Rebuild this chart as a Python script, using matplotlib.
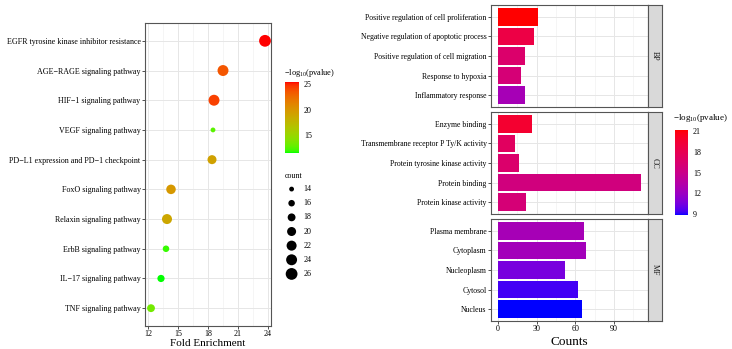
import numpy as np
import matplotlib
matplotlib.use("Agg")
import matplotlib.pyplot as plt
from matplotlib.colors import ListedColormap, Normalize, to_rgb

plt.rcParams['font.family'] = ['Liberation Serif', 'DejaVu Serif']
plt.rcParams['mathtext.fontset'] = 'custom'
plt.rcParams['mathtext.rm'] = 'Liberation Serif'
plt.rcParams['mathtext.it'] = 'Liberation Serif:italic'

# KEGG bubble data
kegg_terms = ["EGFR tyrosine kinase inhibitor resistance", "AGE\u2212RAGE signaling pathway",
              "HIF\u22121 signaling pathway", "VEGF signaling pathway",
              "PD\u2212L1 expression and PD\u22121 checkpoint", "FoxO signaling pathway",
              "Relaxin signaling pathway", "ErbB signaling pathway",
              "IL\u221217 signaling pathway", "TNF signaling pathway"]
kegg_fold = [23.7, 19.5, 18.6, 18.5, 18.4, 14.3, 13.9, 13.8, 13.3, 12.3]
kegg_logp = [25.4, 23.5, 24.3, 12.6, 19.2, 19.8, 18.8, 11.9, 11.5, 13.4]
kegg_count = [26, 24, 24, 14, 20, 21, 22, 16, 17, 18]
count_breaks = [14, 16, 18, 20, 22, 24, 26]

# GO bar data
go_groups = ["BP", "CC", "MF"]
go_terms = {
    "BP": ["Positive regulation of cell proliferation", "Negative regulation of apoptotic process",
           "Positive regulation of cell migration", "Response to hypoxia", "Inflammatory response"],
    "CC": ["Enzyme binding", "Transmembrane receptor P Ty/K activity", "Protein tyrosine kinase activity",
           "Protein binding", "Protein kinase activity"],
    "MF": ["Plasma membrane", "Cytoplasm", "Nucleoplasm", "Cytosol", "Nucleus"],
}
go_counts = {
    "BP": [31, 28, 21, 18, 21],
    "CC": [26, 13, 16, 111, 22],
    "MF": [67, 68, 52, 62, 65],
}
go_logp = {
    "BP": [21.1, 18.6, 16.6, 16.0, 12.6],
    "CC": [19.6, 17.2, 16.6, 15.6, 16.0],
    "MF": [12.6, 12.4, 10.6, 9.4, 8.9],
}


def srgb_to_lab(rgb):
    c = np.array(rgb, dtype=float)
    c = np.where(c <= 0.04045, c / 12.92, ((c + 0.055) / 1.055) ** 2.4)
    m = np.array([[0.4124, 0.3576, 0.1805], [0.2126, 0.7152, 0.0722], [0.0193, 0.1192, 0.9505]])
    xyz = m @ c / np.array([0.95047, 1.0, 1.08883])
    f = np.where(xyz > 0.008856, np.cbrt(xyz), 7.787 * xyz + 16 / 116)
    return np.array([116 * f[1] - 16, 500 * (f[0] - f[1]), 200 * (f[1] - f[2])])


def lab_to_srgb(lab):
    fy = (lab[0] + 16) / 116
    fx = fy + lab[1] / 500
    fz = fy - lab[2] / 200
    f = np.array([fx, fy, fz])
    xyz = np.where(f ** 3 > 0.008856, f ** 3, (f - 16 / 116) / 7.787) * np.array([0.95047, 1.0, 1.08883])
    m = np.array([[3.2406, -1.5372, -0.4986], [-0.9689, 1.8758, 0.0415], [0.0557, -0.2040, 1.0570]])
    c = m @ xyz
    c = np.where(c <= 0.0031308, 12.92 * c, 1.055 * np.clip(c, 0, None) ** (1 / 2.4) - 0.055)
    return np.clip(c, 0, 1)


def lab_cmap(low, high):
    a, b = srgb_to_lab(to_rgb(low)), srgb_to_lab(to_rgb(high))
    return ListedColormap([lab_to_srgb(a + (b - a) * t) for t in np.linspace(0, 1, 256)])


W, H = 732, 349
fig = plt.figure(figsize=(W / 100, H / 100), dpi=100)


def px_axes(x0, y0, x1, y1):
    return fig.add_axes([x0 / W, 1 - y1 / H, (x1 - x0) / W, (y1 - y0) / H])


def style_panel(ax):
    for s in ax.spines.values():
        s.set_color('#555555')
        s.set_linewidth(0.8)
    ax.set_axisbelow(True)
    ax.grid(True, which='major', color='#E6E6E6', linewidth=0.7)
    ax.grid(True, which='minor', axis='x', color='#F2F2F2', linewidth=0.5)
    ax.tick_params(which='major', length=2, width=0.6, color='#333333', labelsize=5.8, pad=1.2)
    ax.tick_params(which='minor', length=0)


# ---- left: bubble chart ----
cmap_k = lab_cmap('#00FF00', '#FF0000')
norm_k = Normalize(min(kegg_logp), max(kegg_logp))


def bubble_size(c):
    lo, hi = 14, 26
    return 12 + (72 - 12) * (np.asarray(c, float) - lo) / (hi - lo)


ax = px_axes(145, 23, 271, 326)
yk = np.arange(len(kegg_terms))[::-1]
ax.scatter(kegg_fold, yk, s=bubble_size(kegg_count), c=kegg_logp, cmap=cmap_k, norm=norm_k,
           edgecolors='none', zorder=3)
ax.set_yticks(yk)
ax.set_yticklabels(kegg_terms)
ax.set_ylim(-0.6, len(kegg_terms) - 0.4)
ax.set_xlim(11.7, 24.3)
ax.set_xticks([12, 15, 18, 21, 24])
ax.set_xticks([13.5, 16.5, 19.5, 22.5], minor=True)
style_panel(ax)
ax.tick_params(axis='y', labelsize=5.75)
fig.text(208 / W, 1 - 346 / H, "Fold Enrichment", fontsize=8, ha='center', va='baseline')

cax = px_axes(285, 82, 299, 153)
cb = fig.colorbar(plt.cm.ScalarMappable(norm=norm_k, cmap=cmap_k), cax=cax)
cb.outline.set_visible(False)
cb.set_ticks([15, 20, 25])
cb.ax.tick_params(length=2, color='white', labelsize=5.8, pad=1.5)
fig.text(284 / W, 1 - 73 / H, r"$-\mathrm{log}_{10}$(pvalue)", fontsize=6, va='center', ha='left')

lax = px_axes(282, 182, 330, 281)
lax.axis('off')
yl = np.arange(len(count_breaks))[::-1]
lax.scatter([0] * len(count_breaks), yl, s=bubble_size(count_breaks), color='black', edgecolors='none')
for yy, c in zip(yl, count_breaks):
    lax.text(1.2, yy, str(c), fontsize=5.8, va='center', ha='left')
lax.set_xlim(-1, 4)
lax.set_ylim(-0.5, len(count_breaks) - 0.5)
fig.text(285 / W, 1 - 176 / H, "count", fontsize=5.8, va='center', ha='left')

# ---- right: faceted bar chart ----
cmap_g = lab_cmap('#0000FF', '#FF0000')
all_p = sum(go_logp.values(), [])
norm_g = Normalize(min(all_p), max(all_p))
xmax = max(sum(go_counts.values(), []))
panels = [(5, 107), (112, 214), (219, 321)]

for i, (g, (y0, y1)) in enumerate(zip(go_groups, panels)):
    ax = px_axes(491, y0, 648, y1)
    yb = np.arange(len(go_terms[g]))[::-1]
    ax.barh(yb, go_counts[g], height=0.9, color=cmap_g(norm_g(go_logp[g])), zorder=3)
    ax.set_yticks(yb)
    ax.set_yticklabels(go_terms[g])
    ax.set_ylim(-0.6, len(yb) - 0.4)
    ax.set_xlim(-0.05 * xmax, 1.05 * xmax)
    ax.set_xticks([0, 30, 60, 90])
    ax.set_xticks([15, 45, 75, 105], minor=True)
    style_panel(ax)
    ax.tick_params(axis='y', labelsize=5.6)
    if i < 2:
        ax.tick_params(axis='x', labelbottom=False, length=0)
    sax = px_axes(648, y0, 662, y1)
    sax.set_facecolor('#D9D9D9')
    sax.set_xticks([])
    sax.set_yticks([])
    for s in sax.spines.values():
        s.set_color('#555555')
        s.set_linewidth(0.8)
    sax.text(0.5, 0.5, g, rotation=-90, fontsize=5.8, ha='center', va='center', transform=sax.transAxes,
             color='#1A1A1A')
fig.text(569 / W, 1 - 345 / H, "Counts", fontsize=9.5, ha='center', va='baseline')

cax2 = px_axes(675, 130, 688, 215)
cb2 = fig.colorbar(plt.cm.ScalarMappable(norm=norm_g, cmap=cmap_g), cax=cax2)
cb2.outline.set_visible(False)
cb2.set_ticks([9, 12, 15, 18, 21])
cb2.ax.tick_params(length=2, color='white', labelsize=5.8, pad=1.5)
fig.text(673 / W, 1 - 118 / H, r"$-\mathrm{log}_{10}$(pvalue)", fontsize=6.5, va='center', ha='left')

fig.savefig("out.png", dpi=100)
